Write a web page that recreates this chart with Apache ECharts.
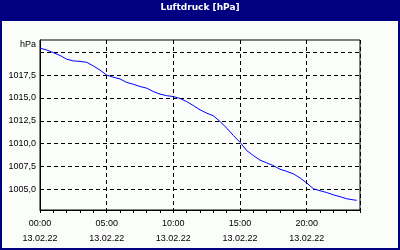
<!DOCTYPE html>
<html>
<head>
<meta charset="utf-8">
<script src="https://cdn.jsdelivr.net/npm/echarts@6/dist/echarts.min.js"></script>
<style>
html,body{margin:0;padding:0;background:#000080;}
#c{width:400px;height:250px;}
</style>
</head>
<body>
<div id="c"></div>
<script>
// Hours since 00:00 on 13.02.22
const hours = [0,0.5,1,1.5,2,2.5,3,3.5,4,4.5,5,5.5,6,6.5,7,7.5,8,8.5,9,9.5,10,10.5,11,11.5,12,12.5,13,13.5,14,14.5,15,15.5,16,16.5,17,17.5,18,18.5,19,19.5,20,20.5,21,21.5,22,22.5,23,23.5,23.75];
// Air pressure in hPa
const pressure = [1020.44,1020.25,1019.96,1019.65,1019.24,1019.05,1019.0,1018.9,1018.5,1018.05,1017.5,1017.27,1017.08,1016.7,1016.5,1016.25,1016.07,1015.7,1015.42,1015.25,1015.15,1014.95,1014.6,1014.17,1013.7,1013.34,1013.05,1012.43,1011.7,1010.9,1010.15,1009.25,1008.7,1008.2,1007.9,1007.6,1007.2,1006.97,1006.7,1006.25,1005.7,1005.07,1004.85,1004.65,1004.4,1004.2,1003.97,1003.85,1003.8];
const yTicks = [1005,1007.5,1010,1012.5,1015,1017.5,1020];
const yLabels = [1005,1007.5,1010,1012.5,1015,1017.5];
const dateLabel = '13.02.22';
const titleText = 'Luftdruck [hPa]';
const unitText = 'hPa';

const data = hours.map((h, i) => [h, pressure[i]]);
const chart = echarts.init(document.getElementById('c'), null, {renderer: 'canvas'});
const font = 'Liberation Sans';
chart.setOption({
  animation: false,
  backgroundColor: '#000080',
  graphic: [
    {type: 'rect', z: -10, shape: {x: 2, y: 21, width: 396, height: 227}, style: {fill: '#fafdfa'}},
    {type: 'text', z: 10, left: 'center', top: 3, style: {text: titleText, fill: '#ffffff', font: 'bold 9px "DejaVu Sans"'}}
  ],
  grid: {left: 40, right: 40, top: 40, bottom: 40, show: true, borderColor: '#000', borderWidth: 1, backgroundColor: 'transparent'},
  xAxis: [
    {type: 'value', min: 0, max: 24, interval: 1, position: 'bottom',
     axisLine: {show: true, lineStyle: {color: '#000', width: 1}},
     axisTick: {show: true, length: 3, lineStyle: {color: '#000'}},
     axisLabel: {show: false}, splitLine: {show: false}},
    {type: 'value', min: 0, max: 24, interval: 5, position: 'bottom',
     axisLine: {show: false}, axisTick: {show: false},
     axisLabel: {show: true, showMaxLabel: false, margin: 6, color: '#000', fontFamily: font, fontSize: 9, lineHeight: 15,
       formatter: v => String(v).padStart(2, '0') + ':00\n' + dateLabel},
     splitLine: {show: true, lineStyle: {color: '#000', width: 1, type: [4, 3]}}}
  ],
  yAxis: {
    type: 'value', min: 1002.74, max: 1021.34,
    name: unitText, nameLocation: 'end', nameGap: -5,
    nameTextStyle: {align: 'right', verticalAlign: 'middle', padding: [0, 4, 0, 0], color: '#000', fontFamily: font, fontSize: 9},
    axisLine: {show: true, lineStyle: {color: '#000', width: 1}},
    axisTick: {show: false, customValues: yTicks},
    axisLabel: {show: true, customValues: yLabels, margin: 4, color: '#000', fontFamily: font, fontSize: 9,
      formatter: v => v.toFixed(1).replace('.', ',')},
    splitLine: {show: true, lineStyle: {color: '#000', width: 1, type: [4, 3]}}
  },
  series: [{
    type: 'line', xAxisIndex: 0, yAxisIndex: 0, data: data, showSymbol: false, symbol: 'none',
    lineStyle: {color: '#0000ff', width: 1}, z: 5
  }]
});
</script>
</body>
</html>
